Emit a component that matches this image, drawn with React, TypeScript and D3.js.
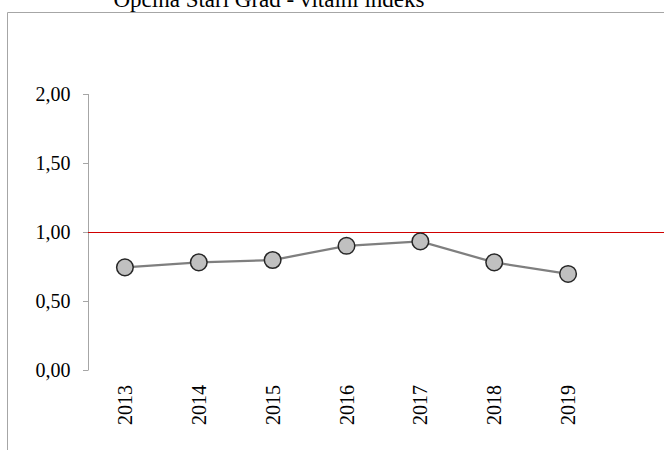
import React from "react";
import * as d3 from "d3";

const years = ["2013", "2014", "2015", "2016", "2017", "2018", "2019"];
const values = [0.744, 0.78, 0.797, 0.9, 0.932, 0.78, 0.696];
const yTicks = [0, 0.5, 1, 1.5, 2];
const refValue = 1;
const title = "Općina Stari Grad - vitalni indeks";

export default function App() {
  const W = 664, H = 450;
  const x = d3.scaleBand().domain(years).range([88, 605]);
  const y = d3.scaleLinear().domain([0, 2]).range([370, 94]);
  const fmt = (v: number) => v.toFixed(2).replace(".", ",");
  const cx = (yr: string) => (x(yr) as number) + x.bandwidth() / 2;
  const line = d3.line<number>()
    .x((_, i) => cx(years[i]))
    .y((d) => y(d));
  const font = "'Liberation Serif', 'Times New Roman', serif";
  return (
    <svg width={W} height={H} style={{ position: "absolute", left: 0, top: 0 }} fontFamily={font}>
      <rect x={0} y={0} width={W} height={H} fill="#fff" />
      <path d={`M7.5,${H}V12.5H${W + 5}`} fill="none" stroke="#a6a6a6" strokeWidth={1} />
      <text x={269} y={7} textAnchor="middle" fontSize={23} fill="#000">{title}</text>
      {/* y axis */}
      <line x1={88.5} x2={88.5} y1={y(2)} y2={y(0)} stroke="#a6a6a6" strokeWidth={1} />
      {yTicks.map((t) => (
        <g key={t}>
          <line x1={83} x2={88.5} y1={Math.round(y(t)) + 0.5} y2={Math.round(y(t)) + 0.5} stroke="#a6a6a6" />
          <text x={70.5} y={y(t)} dy="0.35em" textAnchor="end" fontSize={20} fill="#000">{fmt(t)}</text>
        </g>
      ))}
      {/* reference line */}
      <line x1={88} x2={W} y1={Math.round(y(refValue)) + 0.5} y2={Math.round(y(refValue)) + 0.5} stroke="#d00000" strokeWidth={1} />
      {/* data line */}
      <path d={line(values) || ""} fill="none" stroke="#7f7f7f" strokeWidth={2.25} />
      {values.map((v, i) => (
        <circle key={i} cx={cx(years[i])} cy={y(v)} r={8.3} fill="#c0c0c0" stroke="#262626" strokeWidth={1.5} />
      ))}
      {/* x labels */}
      {years.map((yr) => (
        <text key={yr} transform={`translate(${cx(yr)},385) rotate(-90)`} textAnchor="end" dy="0.35em" fontSize={20} fill="#000">{yr}</text>
      ))}
    </svg>
  );
}
